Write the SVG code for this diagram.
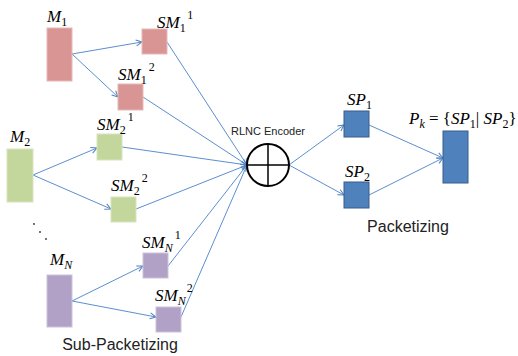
<svg xmlns="http://www.w3.org/2000/svg" width="518" height="356" viewBox="0 0 518 356">
<defs>
<marker id="ah" markerWidth="8" markerHeight="8" refX="7" refY="4" orient="auto" markerUnits="userSpaceOnUse">
<path d="M1,1 L7,4 L1,7" fill="none" stroke="#4f81bd" stroke-width="1"/>
</marker>
<style>
.m{font-family:"Liberation Serif",serif;font-style:italic;font-size:17px;fill:#000}
.s{font-style:normal;font-size:12px}
.si{font-size:12px}
.u{font-style:normal}
.t{font-family:"Liberation Sans","Noto Sans",sans-serif;fill:#222}
.red{fill:#d99594;stroke:#e6b9b8;stroke-width:1}
.grn{fill:#c3d69b;stroke:#d7e4bd;stroke-width:1}
.pur{fill:#b2a1c7;stroke:#ccc1da;stroke-width:1}
.blu{fill:#4f81bd;stroke:#385d8a;stroke-width:1}
.c{stroke:#5b8fd0;stroke-width:1;fill:none;marker-end:url(#ah)}
</style>
</defs>
<rect width="518" height="356" fill="#fff"/>
<g id="connectors">
<line class="c" x1="72" y1="54" x2="142" y2="42"/>
<line class="c" x1="72" y1="54" x2="118" y2="97"/>
<line class="c" x1="167" y1="42" x2="247" y2="165"/>
<line class="c" x1="143" y1="97" x2="247" y2="165"/>
<line class="c" x1="33" y1="175" x2="97" y2="148"/>
<line class="c" x1="33" y1="175" x2="111" y2="209"/>
<line class="c" x1="122" y1="147" x2="247" y2="165"/>
<line class="c" x1="136" y1="209" x2="247" y2="165"/>
<line class="c" x1="72" y1="301" x2="143" y2="266"/>
<line class="c" x1="72" y1="301" x2="156" y2="317"/>
<line class="c" x1="168" y1="266" x2="247" y2="165"/>
<line class="c" x1="181" y1="317" x2="247" y2="165"/>
<line class="c" x1="289" y1="165" x2="344" y2="125"/>
<line class="c" x1="289" y1="165" x2="344" y2="195"/>
<line class="c" x1="369" y1="125" x2="443" y2="158"/>
<line class="c" x1="369" y1="195" x2="443" y2="158"/>
</g>
<g id="M1"><rect class="red" x="47" y="28" width="25" height="53"/><text class="m" x="47" y="22">M<tspan class="s" dy="4">1</tspan></text></g>
<g id="SM1_1"><rect class="red" x="142" y="29" width="25" height="25"/><text class="m" x="157" y="28">SM<tspan class="s" dy="4">1</tspan><tspan class="s" dy="-13" dx="2">1</tspan></text></g>
<g id="SM1_2"><rect class="red" x="118" y="84" width="25" height="26"/><text class="m" x="118" y="80">SM<tspan class="s" dy="4">1</tspan><tspan class="s" dy="-13" dx="2">2</tspan></text></g>
<g id="M2"><rect class="grn" x="7" y="149" width="26" height="53"/><text class="m" x="10" y="142">M<tspan class="s" dy="4">2</tspan></text></g>
<g id="SM2_1"><rect class="grn" x="97" y="134" width="25" height="26"/><text class="m" x="97" y="130">SM<tspan class="s" dy="4">2</tspan><tspan class="s" dy="-13" dx="2">1</tspan></text></g>
<g id="SM2_2"><rect class="grn" x="111" y="197" width="25" height="25"/><text class="m" x="111" y="191">SM<tspan class="s" dy="4">2</tspan><tspan class="s" dy="-13" dx="2">2</tspan></text></g>
<g id="dots"><circle cx="34" cy="224" r="0.9" fill="#333"/><circle cx="40" cy="232" r="0.9" fill="#333"/><circle cx="46" cy="239" r="0.9" fill="#333"/></g>
<g id="MN"><rect class="pur" x="47" y="275" width="25" height="52"/><text class="m" x="50" y="265">M<tspan class="si" dy="4">N</tspan></text></g>
<g id="SMN_1"><rect class="pur" x="143" y="253" width="25" height="25"/><text class="m" x="142" y="248">SM<tspan class="si" dy="4">N</tspan><tspan class="s" dy="-13" dx="2">1</tspan></text></g>
<g id="SMN_2"><rect class="pur" x="156" y="307" width="25" height="25"/><text class="m" x="155" y="301">SM<tspan class="si" dy="4">N</tspan><tspan class="s" dy="-13" dx="1">2</tspan></text></g>
<g id="encoder">
<circle cx="268" cy="165" r="21" fill="#fff" stroke="#000" stroke-width="2"/>
<line x1="247" y1="165" x2="289" y2="165" stroke="#000" stroke-width="1.5"/>
<line x1="268" y1="144" x2="268" y2="186" stroke="#000" stroke-width="1.5"/>
<text class="t" x="268" y="135" font-size="11" text-anchor="middle">RLNC Encoder</text>
</g>
<g id="SP1"><rect class="blu" x="344" y="111" width="25" height="26"/><text class="m" x="347" y="105">SP<tspan class="s" dy="4">1</tspan></text></g>
<g id="SP2"><rect class="blu" x="344" y="182" width="25" height="26"/><text class="m" x="345" y="177">SP<tspan class="s" dy="4">2</tspan></text></g>
<g id="Pk"><rect class="blu" x="443" y="131" width="25" height="52"/><text class="m" x="409" y="124" font-size="16.5">P<tspan class="si" dy="4">k</tspan><tspan class="u" dy="-4"> = {</tspan>SP<tspan class="s" dy="4">1</tspan><tspan class="u" dy="-4">| </tspan>SP<tspan class="s" dy="4">2</tspan><tspan class="u" dy="-4">}</tspan></text></g>
<text class="t" x="408" y="232" font-size="16" text-anchor="middle">Packetizing</text>
<text class="t" x="120" y="350" font-size="16" text-anchor="middle">Sub-Packetizing</text>
</svg>
